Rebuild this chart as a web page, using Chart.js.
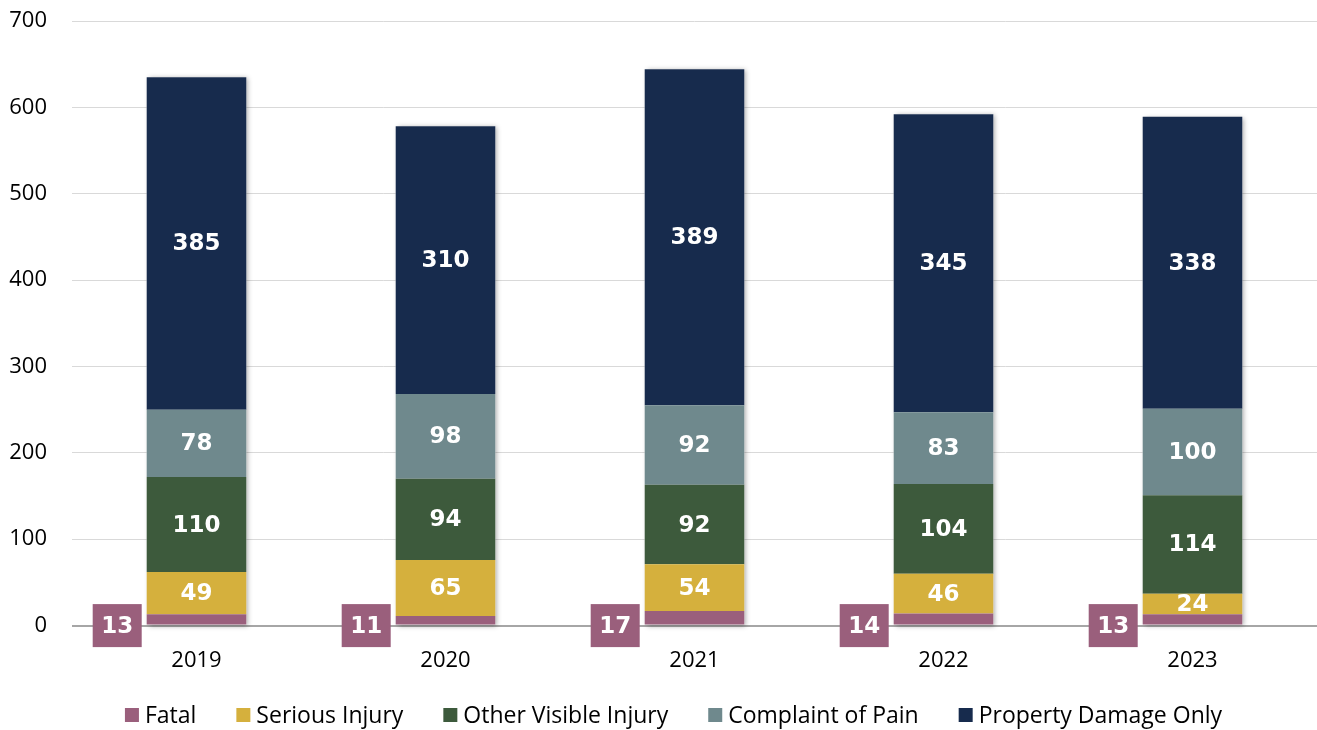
<!DOCTYPE html>
<html>
<head>
<meta charset="utf-8">
<script src="https://cdn.jsdelivr.net/npm/chart.js@4.4.1/dist/chart.umd.min.js"></script>
<style>
  html, body { margin: 0; padding: 0; background: #fff; overflow: hidden; }
  #wrap { width: 1317px; height: 730px; position: relative; }
</style>
</head>
<body>
<div id="wrap"><canvas id="chart"></canvas></div>
<script>
// Collisions by severity per year
const years = ['2019', '2020', '2021', '2022', '2023'];
const fatal = [13, 11, 17, 14, 13];
const seriousInjury = [49, 65, 54, 46, 24];
const otherVisibleInjury = [110, 94, 92, 104, 114];
const complaintOfPain = [78, 98, 92, 83, 100];
const propertyDamageOnly = [385, 310, 389, 345, 338];
const yTicks = [0, 100, 200, 300, 400, 500, 600, 700];

const labelFont = 'bold 23px "DejaVu Sans"';
const axisFont = { family: '"Open Sans"', size: 22 };

// shadow behind each stacked column
const stackShadow = {
    id: 'stackShadow',
    beforeDatasetsDraw(chart) {
        const ctx = chart.ctx;
        const first = chart.getDatasetMeta(0).data;
        const last = chart.getDatasetMeta(chart.data.datasets.length - 1).data;
        ctx.save();
        ctx.shadowColor = 'rgba(0,0,0,0.35)';
        ctx.shadowBlur = 5;
        ctx.shadowOffsetX = 2;
        ctx.shadowOffsetY = 1;
        ctx.fillStyle = '#ffffff';
        first.forEach((bar, i) => {
            const top = last[i].y;
            const bottom = bar.base;
            ctx.fillRect(bar.x - bar.width / 2, top, bar.width, bottom - top);
        });
        ctx.restore();
    }
};

// value labels: white numbers in each segment, fatal count in a box left of the bar
const segmentLabels = {
    id: 'segmentLabels',
    afterDatasetsDraw(chart) {
        const ctx = chart.ctx;
        ctx.save();
        ctx.font = labelFont;
        ctx.textAlign = 'center';
        ctx.textBaseline = 'middle';
        chart.data.datasets.forEach((ds, di) => {
            const meta = chart.getDatasetMeta(di);
            meta.data.forEach((bar, i) => {
                const value = ds.data[i];
                if (di === 0) {
                    const zeroY = chart.scales.y.getPixelForValue(0);
                    const w = 49, h = 43;
                    const right = bar.x - bar.width / 2 - 5;
                    ctx.fillStyle = ds.backgroundColor;
                    ctx.fillRect(right - w, zeroY - h / 2, w, h);
                    ctx.fillStyle = '#ffffff';
                    ctx.fillText(String(value), right - w / 2, zeroY + 1);
                } else {
                    ctx.fillStyle = '#ffffff';
                    ctx.fillText(String(value), bar.x, (bar.y + bar.base) / 2 + 1);
                }
            });
        });
        ctx.restore();
    }
};

// one-row legend under the x axis
const bottomLegend = {
    id: 'bottomLegend',
    afterDraw(chart) {
        const ctx = chart.ctx;
        const box = 14, textGap = 6, itemGap = 40;
        const y = chart.height - 15;
        ctx.save();
        ctx.font = '23px "Open Sans"';
        ctx.textBaseline = 'middle';
        ctx.textAlign = 'left';
        const items = chart.data.datasets.map(ds => ({
            text: ds.label,
            color: ds.backgroundColor,
            width: box + textGap + ctx.measureText(ds.label).width
        }));
        const total = items.reduce((s, it) => s + it.width, 0) + itemGap * (items.length - 1);
        let x = chart.width / 2 + 15 - total / 2;
        items.forEach(it => {
            ctx.fillStyle = it.color;
            ctx.fillRect(x, y - box / 2, box, box);
            ctx.fillStyle = '#000';
            ctx.fillText(it.text, x + box + textGap, y + 1);
            x += it.width + itemGap;
        });
        ctx.restore();
    }
};

new Chart(document.getElementById('chart'), {
    type: 'bar',
    data: {
        labels: years,
        datasets: [
            { label: 'Fatal', data: fatal, backgroundColor: '#9a5f7c' },
            { label: 'Serious Injury', data: seriousInjury, backgroundColor: '#d5b03d' },
            { label: 'Other Visible Injury', data: otherVisibleInjury, backgroundColor: '#3d5a3c' },
            { label: 'Complaint of Pain', data: complaintOfPain, backgroundColor: '#6f898d' },
            { label: 'Property Damage Only', data: propertyDamageOnly, backgroundColor: '#172b4d' }
        ]
    },
    options: {
        responsive: true,
        maintainAspectRatio: false,
        animation: false,
        layout: { padding: { top: 0, left: 0, right: 0, bottom: 34 } },
        datasets: {
            bar: { barPercentage: 0.8, categoryPercentage: 0.5, borderWidth: 0 }
        },
        scales: {
            x: {
                stacked: true,
                grid: { display: false, drawTicks: false },
                border: { display: false },
                ticks: {
                    color: '#000',
                    padding: 22,
                    font: axisFont
                }
            },
            y: {
                stacked: true,
                min: 0,
                max: 700,
                afterBuildTicks(scale) {
                    scale.ticks = yTicks.map(v => ({ value: v }));
                },
                afterFit(scale) {
                    scale.width = 72;
                    scale.paddingTop = 21;
                    scale.paddingBottom = 0;
                },
                border: { display: false },
                grid: {
                    drawTicks: false,
                    color: ctx => ctx.tick.value === 0 ? '#a6a6a6' : '#d9d9d9',
                    lineWidth: ctx => ctx.tick.value === 0 ? 2 : 1
                },
                ticks: {
                    color: '#000',
                    padding: 25,
                    font: axisFont
                }
            }
        },
        plugins: {
            legend: { display: false },
            tooltip: { enabled: false }
        }
    },
    plugins: [stackShadow, segmentLabels, bottomLegend]
});
</script>
</body>
</html>
